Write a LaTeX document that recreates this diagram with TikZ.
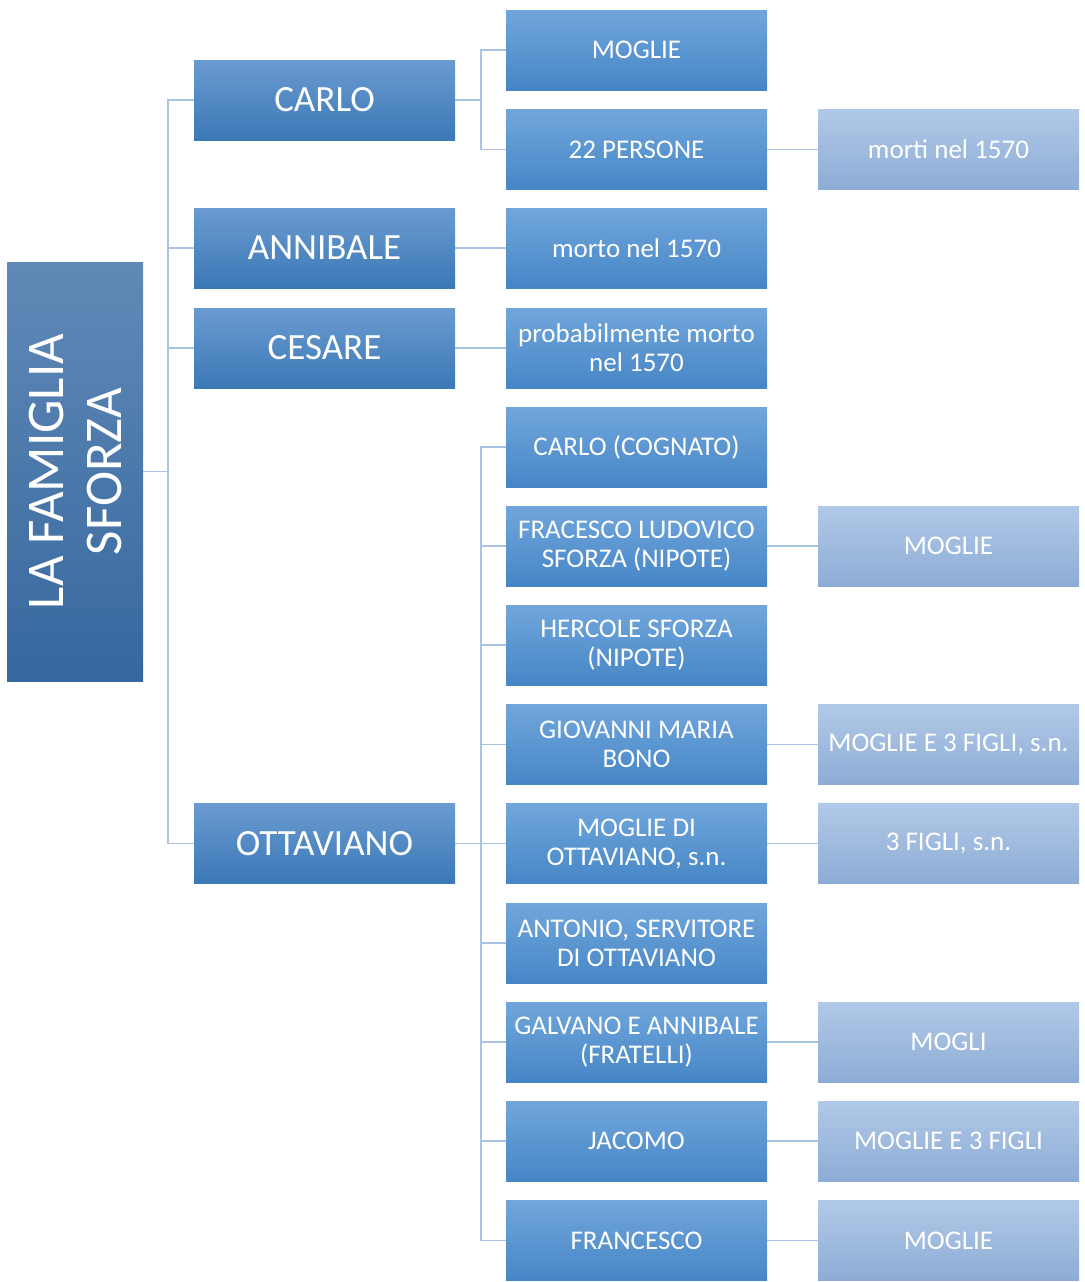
\documentclass[tikz,border=0pt]{standalone}
\usepackage{fontspec}
\setmainfont{Carlito}
\definecolor{rootT}{HTML}{6189B7}
\definecolor{rootB}{HTML}{36689E}
\definecolor{aT}{HTML}{6A9BD0}
\definecolor{aB}{HTML}{3B78B6}
\definecolor{bT}{HTML}{71A6DC}
\definecolor{bB}{HTML}{4686C6}
\definecolor{cT}{HTML}{B1C9E8}
\definecolor{cB}{HTML}{8DACD5}
\definecolor{conn}{HTML}{A8C3E6}
\tikzset{
  box/.style={shade, draw=none, inner sep=0pt, align=center, text=white},
  rootbox/.style={box, top color=rootT, bottom color=rootB, minimum width=136pt, minimum height=419pt},
  lone/.style={box, top color=aT, bottom color=aB, minimum width=261pt, minimum height=80pt, font=\fontsize{37}{42}\selectfont},
  ltwo/.style={box, top color=bT, bottom color=bB, minimum width=261pt, minimum height=80pt, font=\fontsize{27}{29}\selectfont},
  lthree/.style={box, top color=cT, bottom color=cB, minimum width=261pt, minimum height=80pt, font=\fontsize{27}{29}\selectfont},
  link/.style={draw=conn, line width=1.6pt}
}
\begin{document}
\begin{tikzpicture}[x=1pt,y=-1pt]
\useasboundingbox (0,0) rectangle (1084,1282);
% root
\node[rootbox] (root) at (75,471.5) {};
\node[text=white, rotate=90, align=center, font=\fontsize{53}{58}\selectfont] (roottext) at (75,471.5) {LA FAMIGLIA\\SFORZA};
% level 1
\node[lone] (carlo) at (324.5,100) {CARLO};
\node[lone] (annibale) at (324.5,248) {ANNIBALE};
\node[lone] (cesare) at (324.5,348) {CESARE};
\node[lone] (ottaviano) at (324.5,843.5) {OTTAVIANO};
% level 2
\node[ltwo] (moglieC) at (636.5,50) {MOGLIE};
\node[ltwo] (persone) at (636.5,149.5) {22 PERSONE};
\node[ltwo] (mortoA) at (636.5,248) {morto nel 1570};
\node[ltwo] (probab) at (636.5,348) {probabilmente morto\\nel 1570};
\node[ltwo] (cognato) at (636.5,447) {CARLO (COGNATO)};
\node[ltwo] (ludovico) at (636.5,546) {FRACESCO LUDOVICO\\SFORZA (NIPOTE)};
\node[ltwo] (hercole) at (636.5,645) {HERCOLE SFORZA\\(NIPOTE)};
\node[ltwo] (giovanni) at (636.5,744.5) {GIOVANNI MARIA\\BONO};
\node[ltwo] (moglieO) at (636.5,843.5) {MOGLIE DI\\OTTAVIANO, s.n.};
\node[ltwo] (antonio) at (636.5,943) {ANTONIO, SERVITORE\\DI OTTAVIANO};
\node[ltwo] (galvano) at (636.5,1042) {GALVANO E ANNIBALE\\(FRATELLI)};
\node[ltwo] (jacomo) at (636.5,1141) {JACOMO};
\node[ltwo] (francesco) at (636.5,1240.5) {FRANCESCO};
% level 3
\node[lthree] (morti) at (948.5,149.5) {morti nel 1570};
\node[lthree] (moglieL) at (948.5,546) {MOGLIE};
\node[lthree] (moglieG) at (948.5,744.5) {MOGLIE E 3 FIGLI, s.n.};
\node[lthree] (figli) at (948.5,843.5) {3 FIGLI, s.n.};
\node[lthree] (mogli) at (948.5,1042) {MOGLI};
\node[lthree] (moglieJ) at (948.5,1141) {MOGLIE E 3 FIGLI};
\node[lthree] (moglieF) at (948.5,1240.5) {MOGLIE};
% connectors root -> level 1
\coordinate (rj) at (168,471.5);
\draw[link] (root.east) -- (rj);
\foreach \n in {carlo,annibale,cesare,ottaviano}
  \draw[link] (rj) |- (\n.west);
% carlo -> children
\coordinate (cj) at (481,100);
\draw[link] (carlo.east) -- (cj);
\foreach \n in {moglieC,persone}
  \draw[link] (cj) |- (\n.west);
\draw[link] (annibale.east) -- (mortoA.west);
\draw[link] (cesare.east) -- (probab.west);
% ottaviano -> children
\coordinate (oj) at (481,843.5);
\draw[link] (ottaviano.east) -- (oj);
\foreach \n in {cognato,ludovico,hercole,giovanni,moglieO,antonio,galvano,jacomo,francesco}
  \draw[link] (oj) |- (\n.west);
% level 2 -> level 3
\draw[link] (persone.east) -- (morti.west);
\draw[link] (ludovico.east) -- (moglieL.west);
\draw[link] (giovanni.east) -- (moglieG.west);
\draw[link] (moglieO.east) -- (figli.west);
\draw[link] (galvano.east) -- (mogli.west);
\draw[link] (jacomo.east) -- (moglieJ.west);
\draw[link] (francesco.east) -- (moglieF.west);
\end{tikzpicture}
\end{document}
